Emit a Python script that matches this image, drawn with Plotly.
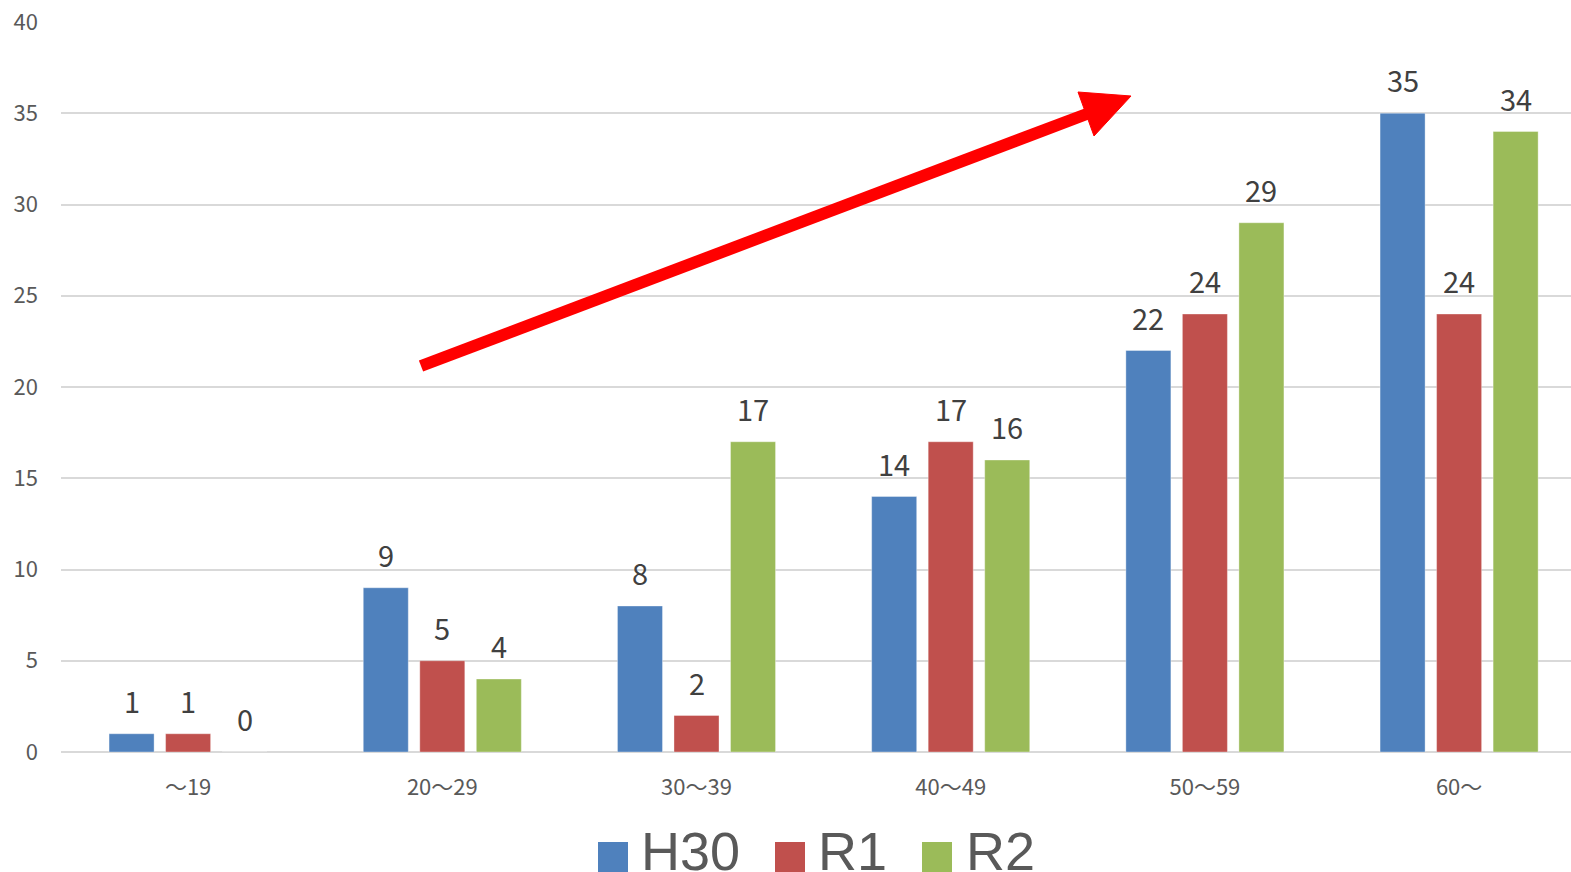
import plotly.graph_objects as go

categories = ["～19", "20～29", "30～39", "40～49", "50～59", "60～"]
series_names = ["H30", "R1", "R2"]
h30 = [1, 9, 8, 14, 22, 35]
r1 = [1, 5, 2, 17, 24, 24]
r2 = [0, 4, 17, 16, 29, 34]
y_ticks = [0, 5, 10, 15, 20, 25, 30, 35, 40]
colors = ["#4F81BD", "#C0504D", "#9BBB59"]
series_values = [h30, r1, r2]

W, H = 1571, 872
L, R, T, B = 61, 0, 22, 120
plot_w = W - L - R
plot_h = H - T - B
cat_px = 254.2

fig = go.Figure()
for name, vals, col in zip(series_names, series_values, colors):
    fig.add_trace(go.Bar(
        x=categories, y=vals, name=name,
        marker=dict(color=col, line=dict(color="rgba(255,255,255,0.35)", width=1)),
        showlegend=False,
    ))

# data labels
annotations = []
for i, vals in enumerate(series_values):
    for c, v in zip(categories, vals):
        annotations.append(dict(
            x=c, y=v, xref="x", yref="y", text=str(v), showarrow=False,
            xshift=(i - 1) * 56.5, yshift=11, yanchor="bottom",
            font=dict(family="Noto Sans CJK JP", size=29, color="#404040"),
        ))

def px(xp):
    return (xp - L) / plot_w

def py(yp):
    return (H - B - yp) / plot_h

shapes = []
# arrow
shapes.append(dict(type="line", xref="paper", yref="paper",
                   x0=px(421), y0=py(366), x1=px(1092), y1=py(112),
                   line=dict(color="#FF0000", width=12)))
tri = [(1131, 96), (1078, 92), (1094, 136)]
path = "M " + " L ".join(f"{px(a)},{py(b)}" for a, b in tri) + " Z"
shapes.append(dict(type="path", xref="paper", yref="paper", path=path,
                   fillcolor="#FF0000", line=dict(color="#FF0000", width=1)))

# custom legend
legend_sq = [598, 775, 922]
legend_tx = [639, 816, 964]
for name, col, sx, tx in zip(series_names, colors, legend_sq, legend_tx):
    shapes.append(dict(type="rect", xref="paper", yref="paper",
                       x0=px(sx), x1=px(sx + 30), y0=py(872), y1=py(842),
                       fillcolor=col, line=dict(width=0)))
    annotations.append(dict(x=px(tx), y=py(851), xref="paper", yref="paper",
                            text=name, showarrow=False, xanchor="left", yanchor="middle",
                            font=dict(family="Liberation Sans", size=54, color="#595959")))

fig.update_layout(
    width=W, height=H,
    margin=dict(l=L, r=R, t=T, b=B, pad=0),
    paper_bgcolor="white", plot_bgcolor="white",
    barmode="group", bargap=0.333, bargroupgap=0.2035,
    showlegend=False,
    annotations=annotations, shapes=shapes,
    xaxis=dict(
        type="category", range=[-0.5, -0.5 + plot_w / cat_px],
        showgrid=False, showline=False, zeroline=False, ticks="",
        tickfont=dict(family="Noto Sans CJK JP", size=22, color="#595959"),
        ticklabelstandoff=20,
    ),
    yaxis=dict(
        range=[0, 40], tickvals=y_ticks, showgrid=True,
        gridcolor="#D9D9D9", gridwidth=2, zeroline=True, zerolinecolor="#D9D9D9",
        zerolinewidth=2, showline=False, ticks="",
        tickfont=dict(family="Noto Sans CJK JP", size=22, color="#595959"),
        ticklabelstandoff=22,
    ),
)

fig.write_html("out.html")
